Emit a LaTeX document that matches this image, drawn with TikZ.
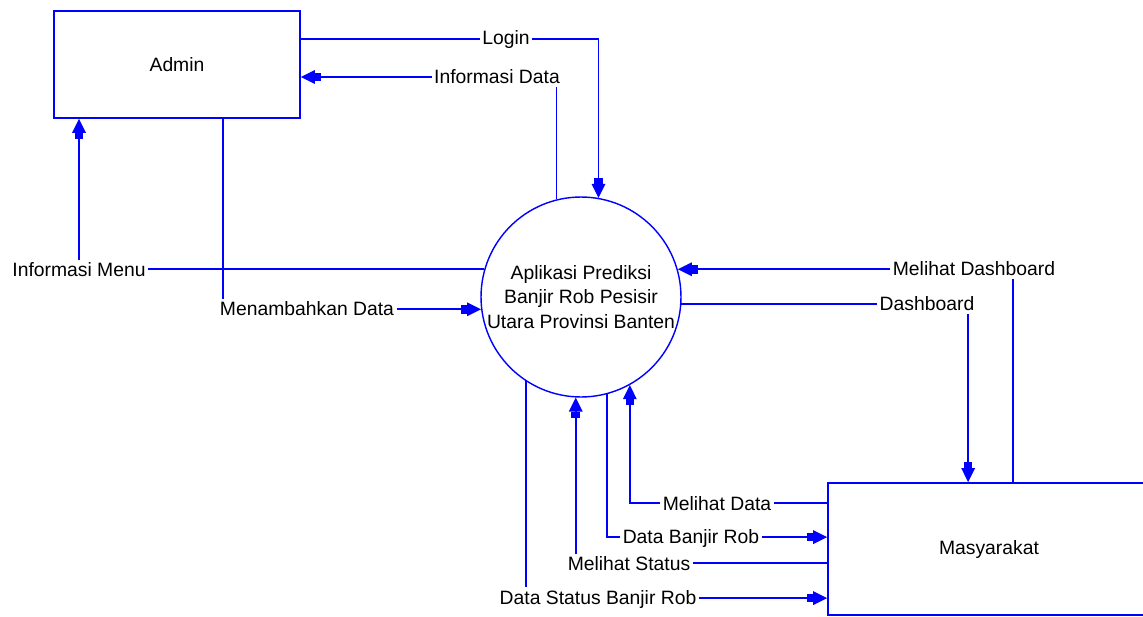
\documentclass[tikz,border=0pt]{standalone}
\usepackage{fontspec}
\setmainfont{Liberation Sans}
\usetikzlibrary{arrows.meta,calc,backgrounds}

\begin{document}
\begin{tikzpicture}[
    x=0.02cm, y=-0.02cm,
    every node/.style={font=\fontsize{11}{14}\selectfont},
    ent/.style={rectangle, draw=blue, line width=1pt, fill=white},
    prc/.style={circle, draw=blue, line width=0.8pt, fill=white, minimum size=4cm, align=center, inner sep=0pt},
    lbl/.style={fill=white, inner sep=1.5pt},
    flow/.style={blue, line width=0.9pt, -{Rectangle[length=0.12cm, width=0.17cm]Triangle[length=0.28cm, width=0.27cm]}}
]

% Batas gambar
\clip (0,0) rectangle (1143,616);

% Entitas Admin
\node[ent, minimum width=4.92cm, minimum height=2.14cm] (admin) at (177,64.5) {Admin};

% Proses utama
\node[prc] (proses) at (581,297) {Aplikasi Prediksi\\ Banjir Rob Pesisir\\ Utara Provinsi Banten};

% Entitas Masyarakat
\node[ent, minimum width=6.44cm, minimum height=2.64cm] (masy) at (989,549) {Masyarakat};

% Label alur data
\node[lbl] (lbllogin) at (506,39) {Login};
\node[lbl] (lblinfodata) at (497,77) {Informasi Data};
\node[lbl] (lblmenu) at (79,270) {Informasi Menu};
\node[lbl] (lbltambah) at (307,309) {Menambahkan Data};
\node[lbl] (lbllihatdash) at (974,269) {Melihat Dashboard};
\node[lbl] (lbldash) at (927,304) {Dashboard};
\node[lbl] (lbllihatdata) at (717,504) {Melihat Data};
\node[lbl] (lblbanjir) at (691,538) {Data Banjir Rob};
\node[lbl] (lblstatus) at (629,564) {Melihat Status};
\node[lbl] (lblstatusbanjir) at (598,599) {Data Status Banjir Rob};

% Alur data
\begin{scope}[on background layer]
\draw[flow] (admin.east |- lbllogin) -| (proses.80);
\draw[flow] (proses.104) |- (admin.east |- lblinfodata);
\draw[flow] (proses.164) -| (admin.south -| lblmenu);
\draw[flow] ($(admin.south west)+(170,0)$) |- (proses.187);
\draw[flow] ($(masy.north west)+(186,0)$) |- (proses.16);
\draw[flow] (proses.-4) -| ($(masy.north west)+(141,0)$);
\draw[flow] ($(masy.north west)+(0,21)$) -| (proses.-61);
\draw[flow] (proses.-75) |- ($(masy.north west)+(0,55)$);
\draw[flow] ($(masy.north west)+(0,81)$) -| (proses.-93);
\draw[flow] (proses.-123) |- ($(masy.north west)+(0,116)$);
\end{scope}

\end{tikzpicture}
\end{document}
